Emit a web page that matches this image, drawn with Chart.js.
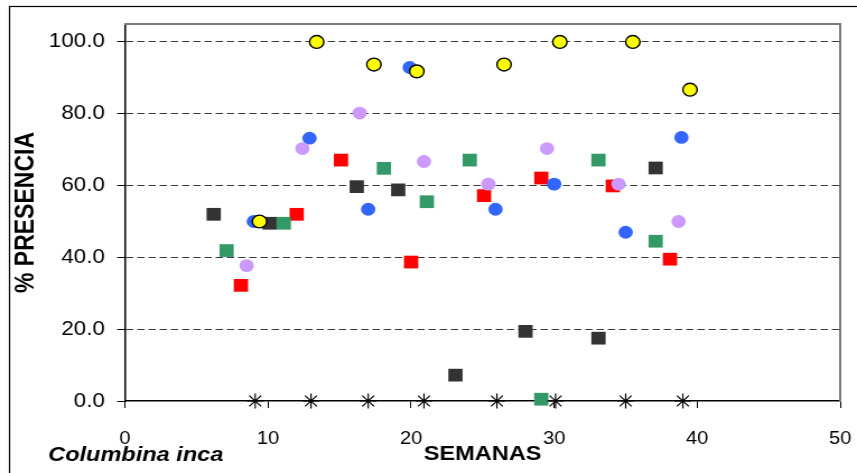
<!DOCTYPE html>
<html>
<head>
<meta charset="utf-8">
<script src="https://cdn.jsdelivr.net/npm/chart.js@4"></script>
<style>
    html, body { margin: 0; padding: 0; background: #fff; overflow: hidden; }
</style>
</head>
<body>
<!-- drawn at 765px wide and shown at 857px: the original picture is a bit stretched sideways -->
<canvas id="chart" width="765" height="473" style="display:block;width:857px;height:473px"></canvas>
<script>
// semanas / % presencia por serie
const weeksStar = [9.1, 13.0, 17.0, 20.9, 26.0, 30.1, 35.0, 39.0];
const presStar = [0, 0, 0, 0, 0, 0, 0, 0];

const weeksYellow = [9.4, 13.4, 17.4, 20.4, 26.5, 30.4, 35.5, 39.5];
const presYellow = [50.0, 100.0, 93.7, 91.8, 93.7, 100.0, 100.0, 86.7];

const weeksBlue = [9.0, 12.9, 17.0, 19.9, 25.9, 30.0, 35.0, 38.9];
const presBlue = [50.0, 73.2, 53.4, 92.9, 53.4, 60.4, 47.0, 73.4];

const weeksViolet = [8.5, 12.4, 16.4, 20.9, 25.4, 29.5, 34.5, 38.7];
const presViolet = [37.7, 70.3, 80.2, 66.7, 60.4, 70.3, 60.4, 50.0];

const weeksRed = [8.1, 12.0, 15.1, 20.0, 25.1, 29.1, 34.1, 38.1];
const presRed = [32.2, 52.0, 67.1, 38.7, 57.2, 62.1, 59.9, 39.5];

const weeksGreen = [7.1, 11.1, 18.1, 21.1, 24.1, 29.1, 33.1, 37.1];
const presGreen = [41.9, 49.5, 64.8, 55.5, 67.1, 0.5, 67.1, 44.5];

const weeksDark = [6.2, 10.1, 16.2, 19.1, 23.1, 28.0, 33.1, 37.1];
const presDark = [52.0, 49.5, 59.7, 58.8, 7.2, 19.4, 17.5, 64.9];

const xTicks = [0, 10, 20, 30, 40, 50];
const yTicks = [0, 20, 40, 60, 80, 100];

const FONT = '"Liberation Sans", Arial, sans-serif';

const toPoints = (xs, ys) => xs.map((x, i) => ({ x: x, y: ys[i] }));

const makeSet = (label, xs, ys, style) => ({
    label: label,
    data: toPoints(xs, ys),
    clip: false,
    showLine: false,
    ...style
});

// marco exterior y el texto de la especie
const framePlugin = {
    id: 'frame',
    afterDraw(chart) {
        const ctx = chart.ctx;
        ctx.save();
        ctx.setLineDash([]);
        ctx.strokeStyle = '#000';
        ctx.lineWidth = 1.2;
        ctx.strokeRect(8.5, 6.5, 1000, 1000);

        ctx.fillStyle = '#000';
        ctx.font = 'italic bold 21px ' + FONT;
        ctx.textBaseline = 'middle';
        ctx.textAlign = 'left';
        ctx.fillText('Columbina inca', 43, 455);
        ctx.restore();
    }
};

// ejes sin etiquetas: solo el borde gris de arriba y de la derecha
const frameAxis = (position, min, max) => ({
    type: 'linear',
    position: position,
    min: min,
    max: max,
    ticks: { display: false },
    grid: { drawOnChartArea: false, drawTicks: false },
    border: { display: true, color: '#7a7a7a', width: 2 },
    afterFit: (scale) => {
        if (position === 'top') scale.height = 0;
        else scale.width = 0;
    }
});

const ctx = document.getElementById('chart').getContext('2d');
new Chart(ctx, {
    type: 'scatter',
    data: {
        datasets: [
            makeSet('asterisco', weeksStar, presStar, {
                pointStyle: 'star', pointRadius: 7.5, borderColor: '#000', borderWidth: 1.2, backgroundColor: '#000'
            }),
            makeSet('amarillo', weeksYellow, presYellow, {
                pointStyle: 'circle', pointRadius: 6.4, borderColor: '#000', borderWidth: 1.4, backgroundColor: '#ffff00'
            }),
            makeSet('violeta', weeksViolet, presViolet, {
                pointStyle: 'circle', pointRadius: 6.4, borderWidth: 0, borderColor: '#cc99ff', backgroundColor: '#cc99ff'
            }),
            makeSet('azul', weeksBlue, presBlue, {
                pointStyle: 'circle', pointRadius: 6.4, borderWidth: 0, borderColor: '#3366ff', backgroundColor: '#3366ff'
            }),
            makeSet('verde', weeksGreen, presGreen, {
                pointStyle: 'rect', pointRadius: 9, borderWidth: 0, borderColor: '#339966', backgroundColor: '#339966'
            }),
            makeSet('gris', weeksDark, presDark, {
                pointStyle: 'rect', pointRadius: 9, borderWidth: 0, borderColor: '#333333', backgroundColor: '#333333'
            }),
            makeSet('rojo', weeksRed, presRed, {
                pointStyle: 'rect', pointRadius: 9, borderWidth: 0, borderColor: '#ff0000', backgroundColor: '#ff0000'
            })
        ]
    },
    options: {
        responsive: false,
        devicePixelRatio: 1,
        animation: false,
        events: [],
        layout: { padding: { left: 0, right: 0, top: 24, bottom: 0 } },
        plugins: {
            legend: { display: false },
            tooltip: { enabled: false }
        },
        scales: {
            x: {
                type: 'linear',
                min: xTicks[0],
                max: xTicks[xTicks.length - 1],
                afterBuildTicks: (scale) => { scale.ticks = xTicks.map(v => ({ value: v })); },
                afterFit: (scale) => {
                    scale.height = 72;
                    scale.paddingRight = 15;
                },
                ticks: {
                    color: '#000',
                    font: { family: FONT, size: 18 },
                    padding: 20,
                    maxRotation: 0
                },
                grid: {
                    drawOnChartArea: false,
                    drawTicks: true,
                    tickLength: 7,
                    tickColor: '#000',
                    tickWidth: 1
                },
                border: { display: true, color: '#000', width: 1.5 },
                title: {
                    display: true,
                    text: 'SEMANAS',
                    color: '#000',
                    font: { family: FONT, size: 21, weight: 'bold' },
                    padding: { top: 0, bottom: 6 }
                }
            },
            y: {
                type: 'linear',
                min: 0,
                max: 105,
                afterBuildTicks: (scale) => { scale.ticks = yTicks.map(v => ({ value: v })); },
                afterFit: (scale) => { scale.width = 111.6; },
                ticks: {
                    color: '#000',
                    font: { family: FONT, size: 20 },
                    padding: 11,
                    callback: (v) => Number(v).toFixed(1)
                },
                grid: {
                    color: (c) => (c.tick && c.tick.value === 0) ? 'rgba(0,0,0,0)' : '#3a3a3a',
                    lineWidth: 1,
                    tickColor: '#000',
                    tickLength: 7,
                    tickWidth: 1,
                    tickBorderDash: []
                },
                border: { display: true, color: '#000', width: 1.5, dash: [6.5, 3.5] },
                title: {
                    display: true,
                    text: '% PRESENCIA',
                    color: '#000',
                    font: { family: FONT, size: 23, weight: 'bold' },
                    padding: { top: 10, bottom: 0 }
                }
            },
            xTop: frameAxis('top', 0, 50),
            yRight: frameAxis('right', 0, 105)
        }
    },
    plugins: [framePlugin]
});
</script>
</body>
</html>
